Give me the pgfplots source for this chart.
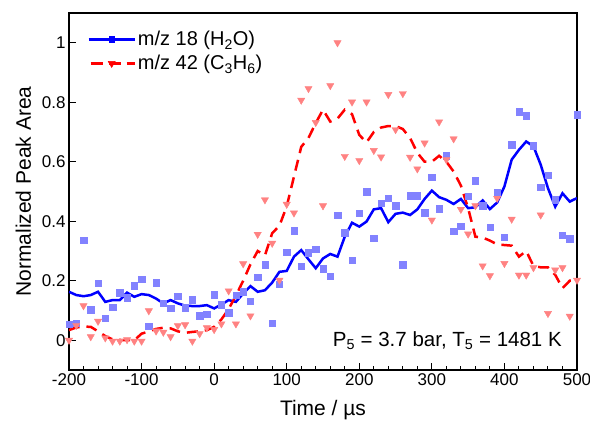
\documentclass[border=0pt]{standalone}
\usepackage{pgfplots}
\usepackage{pgfplotstable}
\pgfplotsset{compat=1.18}
\usepackage{fontspec}
\setmainfont{Liberation Sans}
\definecolor{lblue}{RGB}{130,130,255}
\definecolor{lred}{RGB}{255,130,130}

\pgfplotstableread{
t bsq bline rtri rline
-200 0.054 0.163 0.000 0.034
-190 0.058 0.152 0.050 0.043
-180 0.337 0.148 0.116 0.046
-170 0.103 0.152 0.012 0.045
-160 0.191 0.163 0.064 0.030
-150 0.074 0.129 0.008 0.014
-140 0.112 0.135 -0.003 0.003
-130 0.160 0.135 -0.003 0.001
-120 0.143 0.160 0.002 0.000
-110 0.183 0.146 -0.003 0.000
-100 0.205 0.155 -0.003 0.022
-90 0.048 0.152 0.099 0.030
-80 0.193 0.140 0.031 0.038
-70 0.124 0.124 0.027 0.042
-60 0.108 0.135 0.012 0.040
-50 0.149 0.124 0.049 0.030
-40 0.109 0.116 0.052 0.025
-30 0.136 0.115 -0.003 0.028
-20 0.082 0.115 0.022 0.030
-10 0.088 0.118 0.042 0.034
0 0.153 0.107 0.036 0.045
10 0.119 0.120 0.055 0.070
20 0.093 0.135 0.166 0.105
30 0.151 0.129 0.055 0.150
40 0.163 0.157 0.257 0.200
50 0.131 0.182 0.082 0.255
60 0.211 0.163 0.356 0.300
70 0.254 0.168 0.472 0.285
80 0.058 0.194 0.326 0.360
90 0.188 0.230 0.202 0.385
100 0.295 0.233 0.457 0.450
110 0.368 0.281 0.428 0.550
120 0.249 0.303 0.807 0.650
130 0.294 0.272 0.846 0.680
140 0.306 0.242 0.732 0.730
150 0.240 0.275 0.452 0.775
160 0.216 0.290 0.856 0.735
170 0.420 0.281 1.000 0.745
180 0.362 0.348 0.618 0.775
190 0.270 0.395 0.801 0.760
200 0.428 0.382 0.604 0.690
210 0.499 0.399 0.801 0.665
220 0.343 0.440 0.638 0.700
230 0.461 0.444 0.616 0.715
240 0.478 0.397 0.826 0.720
250 0.452 0.425 0.708 0.720
260 0.254 0.429 0.829 0.710
270 0.486 0.421 0.615 0.680
280 0.486 0.440 0.576 0.630
290 0.429 0.475 0.663 0.600
300 0.548 0.503 0.404 0.600
310 0.442 0.481 0.734 0.620
320 0.620 0.472 0.607 0.600
330 0.366 0.458 0.677 0.567
340 0.384 0.475 0.440 0.520
350 0.485 0.444 0.357 0.444
360 0.536 0.447 0.452 0.348
370 0.452 0.470 0.250 0.345
380 0.380 0.441 0.217 0.335
390 0.498 0.463 0.477 0.322
400 0.346 0.517 0.258 0.320
410 0.657 0.607 0.407 0.318
420 0.768 0.640 0.219 0.281
430 0.755 0.668 0.219 0.300
440 0.654 0.652 0.244 0.250
450 0.515 0.590 0.421 0.245
460 0.555 0.511 0.090 0.245
470 0.472 0.449 0.236 0.220
480 0.354 0.494 0.244 0.175
490 0.342 0.466 0.081 0.200
500 0.758 0.478 0.202 0.200
}\datatable

\begin{document}
\begin{tikzpicture}
\useasboundingbox (-69pt,-56pt) rectangle (521pt,370pt);
\begin{axis}[
  scale only axis, width=508pt, height=357pt,
  xmin=-200, xmax=500, ymin=-0.1, ymax=1.1,
  xtick={-200,-100,0,100,200,300,400,500}, minor x tick num=4,
  ytick={0,0.2,0.4,0.6,0.8,1},
  tick align=inside, xtick pos=left, ytick pos=left,
  major tick length=7pt, minor tick length=4pt,
  axis line style={line width=1.1pt},
  every tick/.style={line width=1pt, black},
  tick label style={font=\fontsize{17}{19}\selectfont},
  /pgf/number format/assume math mode=true,
  xlabel={Time / µs}, ylabel={Normalized Peak Area},
  label style={font=\fontsize{21}{24}\selectfont},
  xlabel style={at={(axis description cs:0.5,-0.112)}, anchor=center},
  ylabel style={at={(axis description cs:-0.09,0.5)}, anchor=center},
  legend style={draw=none, fill=none, at={(axis description cs:0.03,0.96)}, anchor=north west,
    font=\fontsize{20}{24}\selectfont, row sep=4pt},
  legend cell align=left,
  legend image code/.code={\draw[mark repeat=2,mark phase=2,#1] plot coordinates {(0pt,0pt) (23pt,0pt) (46pt,0pt)};},
]
\addlegendimage{blue, line width=2.5pt, mark=square*, mark size=2.8pt, mark options={solid, line width=0.5pt}}
\addlegendentry{m/z 18 (H\textsubscript{2}O)}
\addlegendimage{red, line width=2.5pt, dash pattern=on 12pt off 6pt, dash phase=-2pt, mark=triangle*, mark size=4pt, mark options={solid, rotate=180, line width=0.5pt}}
\addlegendentry{m/z 42 (C\textsubscript{3}H\textsubscript{6})}

\addplot[only marks, mark=square*, mark size=3.2pt, color=lblue, forget plot] table[x=t, y=bsq] {\datatable};
\addplot[only marks, mark=triangle*, mark size=4.2pt, mark options={rotate=180}, color=lred, forget plot] table[x=t, y=rtri] {\datatable};
\addplot[blue, line width=2.5pt, no marks, forget plot] table[x=t, y=bline] {\datatable};
\addplot[red, line width=2.5pt, no marks, dash pattern=on 11pt off 7pt, forget plot] table[x=t, y=rline] {\datatable};

\node[anchor=base east, font=\fontsize{20.5}{24}\selectfont] at (rel axis cs:0.977,0.065) {P\textsubscript{5} = 3.7 bar, T\textsubscript{5} = 1481 K};
\end{axis}
\end{tikzpicture}
\end{document}
